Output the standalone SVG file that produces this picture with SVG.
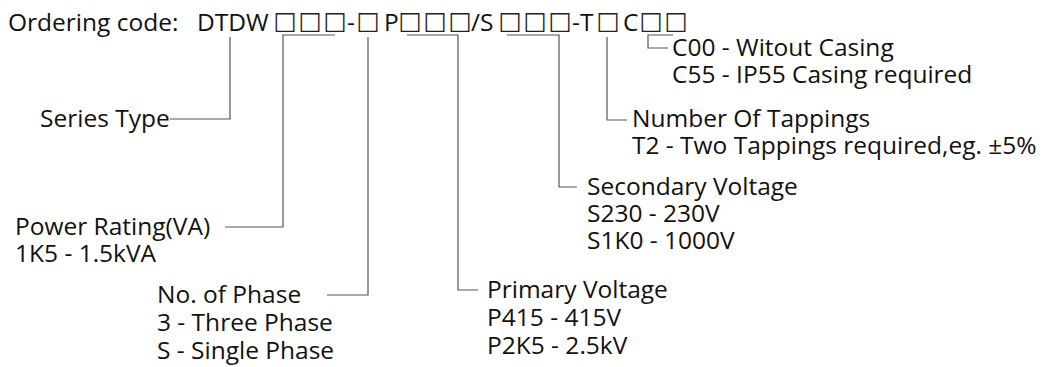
<svg xmlns="http://www.w3.org/2000/svg" width="1050" height="367" viewBox="0 0 1050 367">
<style>
.t{font-family:"Open Sans","Liberation Sans",sans-serif;font-size:24.5px;fill:#111;}
.b{font-family:"DejaVu Sans",sans-serif;font-size:24.6px;text-anchor:middle;fill:#222;}
.c{fill:none;stroke:#555;stroke-width:1.2;}
</style>
<rect width="1050" height="367" fill="#fff"/>
<g id="code">
<text class="t" y="31"><tspan x="8" y="31">Ordering code:</tspan><tspan x="197" y="31">DTDW</tspan><tspan class="b" x="285" y="28.5">□</tspan><tspan class="b" x="310" y="28.5">□</tspan><tspan class="b" x="335" y="28.5">□</tspan><tspan x="347" y="31">-</tspan><tspan class="b" x="368" y="28.5">□</tspan><tspan x="384" y="31">P</tspan><tspan class="b" x="410" y="28.5">□</tspan><tspan class="b" x="435" y="28.5">□</tspan><tspan class="b" x="460" y="28.5">□</tspan><tspan x="471" y="31">/S</tspan><tspan class="b" x="510" y="28.5">□</tspan><tspan class="b" x="535" y="28.5">□</tspan><tspan class="b" x="560" y="28.5">□</tspan><tspan x="572" y="31">-T</tspan><tspan class="b" x="608" y="28.5">□</tspan><tspan x="623" y="31">C</tspan><tspan class="b" x="651" y="28.5">□</tspan><tspan class="b" x="676" y="28.5">□</tspan></text>
</g>
<g id="connectors">
<path class="c" d="M230,37V119H170"/>
<path class="c" d="M335,35H283V227H225"/>
<path class="c" d="M368,37V295H327"/>
<path class="c" d="M407,35H458V290H478"/>
<path class="c" d="M507,35H559V187H577"/>
<path class="c" d="M607,37V120H627"/>
<path class="c" d="M673,35H648V48H668"/>
</g>
<g id="casing">
<text class="t" x="672" y="56">C00 - Witout Casing</text>
<text class="t" x="672" y="83">C55 - IP55 Casing required</text>
</g>
<g id="tappings">
<text class="t" x="632" y="127">Number Of Tappings</text>
<text class="t" x="632" y="154">T2 - Two Tappings required,eg. ±5%</text>
</g>
<g id="secondary">
<text class="t" x="587" y="195">Secondary Voltage</text>
<text class="t" x="587" y="222">S230 - 230V</text>
<text class="t" x="587" y="249">S1K0 - 1000V</text>
</g>
<g id="series">
<text class="t" x="40" y="127">Series Type</text>
</g>
<g id="power">
<text class="t" x="15" y="235">Power Rating(VA)</text>
<text class="t" x="15" y="262">1K5 - 1.5kVA</text>
</g>
<g id="phase">
<text class="t" x="157" y="303">No. of Phase</text>
<text class="t" x="157" y="331">3 - Three Phase</text>
<text class="t" x="157" y="359">S - Single Phase</text>
</g>
<g id="primary">
<text class="t" x="487" y="298">Primary Voltage</text>
<text class="t" x="487" y="326">P415 - 415V</text>
<text class="t" x="487" y="354">P2K5 - 2.5kV</text>
</g>
</svg>
